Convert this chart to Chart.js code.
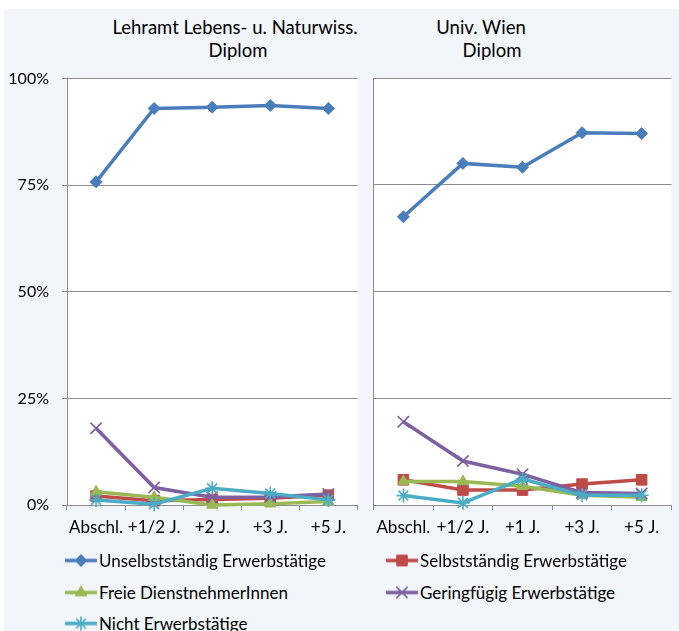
<!DOCTYPE html>
<html>
<head>
<meta charset="utf-8">
<script src="https://cdn.jsdelivr.net/npm/chart.js@4"></script>
<style>
  html, body { margin: 0; padding: 0; background: #fff; overflow: hidden; }
  body { width: 679px; height: 631px; position: relative; font-family: Lato, sans-serif; }
  #bg { position: absolute; left: 4px; top: 9px; right: 0; bottom: 0; background: #f2f6fb; }
  canvas { position: absolute; }
  .ttl { position: absolute; transform: translate(-50%, -50%); font-size: 18.5px; color: #000; white-space: nowrap; }
  .leg { position: absolute; display: flex; align-items: center; font-size: 17px; color: #000; white-space: nowrap; transform: translateY(-50%); }
  .leg canvas { position: static; margin-right: 2px; }
</style>
</head>
<body>
<div id="bg"></div>
<div class="ttl" style="left:235px; top:27px">Lehramt Lebens- u. Naturwiss.</div>
<div class="ttl" style="left:238px; top:50px">Diplom</div>
<div class="ttl" style="left:481px; top:27px">Univ. Wien</div>
<div class="ttl" style="left:492px; top:50px">Diplom</div>
<canvas id="left" width="367" height="494" style="left:0; top:56px"></canvas>
<canvas id="right" width="317" height="490" style="left:364px; top:60px"></canvas>
<div id="legend"></div>
<script>
// --- Data (share of graduates, %) ---
const catsLeft = ["Abschl.", "+1/2 J.", "+2 J.", "+3 J.", "+5 J."];
const catsRight = ["Abschl.", "+1/2 J.", "+1 J.", "+3 J.", "+5 J."];
const yTicks = [0, 25, 50, 75, 100];

const unselbstLeft = [75.8, 93.0, 93.3, 93.7, 93.0];
const selbstLeft = [2.1, 1.0, 1.3, 1.6, 2.3];
const freieLeft = [3.1, 1.8, 0.0, 0.3, 0.8];
const geringLeft = [18.0, 4.1, 1.8, 1.9, 2.6];
const nichtLeft = [1.2, 0.2, 3.9, 2.7, 1.2];

const unselbstRight = [67.5, 80.0, 79.1, 87.2, 87.0];
const selbstRight = [5.9, 3.5, 3.5, 4.9, 5.9];
const freieRight = [5.5, 5.5, 4.4, 2.3, 1.8];
const geringRight = [19.5, 10.3, 7.2, 2.9, 2.7];
const nichtRight = [2.2, 0.5, 6.1, 2.3, 2.3];

// --- Series styles ---
const series = [
  { label: "Unselbstständig Erwerbstätige", color: "#4a7ebb", style: "rectRot", radius: 6 },
  { label: "Selbstständig Erwerbstätige", color: "#be4b48", style: "rect", radius: 7.5 },
  { label: "Freie DienstnehmerInnen", color: "#98b954", style: "triangle", radius: 6.5 },
  { label: "Geringfügig Erwerbstätige", color: "#7d60a0", style: "crossRot", radius: 8 },
  { label: "Nicht Erwerbstätige", color: "#4bacc6", style: "star", radius: 7 }
];

const GRID = "#8c8c8c";
const thinMarker = s => s === "crossRot" || s === "star";

const makeDatasets = lists => lists.map((data, i) => ({
  label: series[i].label,
  data,
  borderColor: series[i].color,
  backgroundColor: series[i].color,
  borderWidth: 3.5,
  pointStyle: series[i].style,
  pointRadius: series[i].radius,
  pointBorderWidth: thinMarker(series[i].style) ? 1.6 : 1,
  tension: 0,
  clip: false,
  order: lists.length - 1 - i
}));

// white plot area
const plotBg = {
  id: "plotBg",
  beforeDraw(chart) {
    const { ctx, chartArea: a } = chart;
    ctx.save();
    ctx.fillStyle = "#fff";
    ctx.fillRect(a.left, a.top, a.right - a.left, a.bottom - a.top);
    ctx.restore();
  }
};

function createPanel(id, labels, lists, showY) {
  return new Chart(document.getElementById(id), {
    type: "line",
    data: { labels, datasets: makeDatasets(lists) },
    plugins: [plotBg],
    options: {
      responsive: false,
      animation: false,
      layout: { padding: { top: 18, left: showY ? 0 : 2, right: 0, bottom: 0 } },
      plugins: { legend: { display: false }, tooltip: { enabled: false } },
      scales: {
        x: {
          offset: true,
          afterFit: s => { s.height = 45; },
          grid: { offset: true, drawOnChartArea: false, drawTicks: true, tickLength: 5, color: GRID },
          border: { color: GRID },
          ticks: { color: "#000", font: { family: "Lato", size: 17 }, padding: 7, maxRotation: 0, autoSkip: false }
        },
        y: {
          min: 0, max: 100,
          afterBuildTicks: s => { s.ticks = yTicks.map(v => ({ value: v })); },
          afterFit: s => { s.width = showY ? 67 : 0; },
          grid: { color: GRID, drawTicks: showY, tickLength: 5 },
          border: { color: GRID },
          ticks: {
            display: showY,
            color: "#000",
            font: { family: "Lato", size: 16 },
            padding: 13,
            callback: v => v + "%"
          }
        }
      }
    }
  });
}

createPanel("left", catsLeft, [unselbstLeft, selbstLeft, freieLeft, geringLeft, nichtLeft], true);
createPanel("right", catsRight, [unselbstRight, selbstRight, freieRight, geringRight, nichtRight], false);

// --- Legend ---
const legendPos = [[65, 560], [386, 560], [65, 592], [386, 592], [65, 623]];
series.forEach((s, i) => {
  const item = document.createElement("div");
  item.className = "leg";
  item.style.left = legendPos[i][0] + "px";
  item.style.top = legendPos[i][1] + "px";
  const c = document.createElement("canvas");
  c.width = 32; c.height = 16;
  const ctx = c.getContext("2d");
  ctx.strokeStyle = s.color;
  ctx.fillStyle = s.color;
  ctx.lineWidth = 3.5;
  ctx.beginPath();
  ctx.moveTo(0, 8); ctx.lineTo(32, 8);
  ctx.stroke();
  ctx.lineWidth = thinMarker(s.style) ? 1.6 : 1;
  Chart.helpers.drawPoint(ctx, { pointStyle: s.style, radius: s.radius, borderWidth: ctx.lineWidth }, 16, 8);
  const t = document.createElement("span");
  t.textContent = s.label;
  item.appendChild(c);
  item.appendChild(t);
  document.getElementById("legend").appendChild(item);
});
</script>
</body>
</html>
